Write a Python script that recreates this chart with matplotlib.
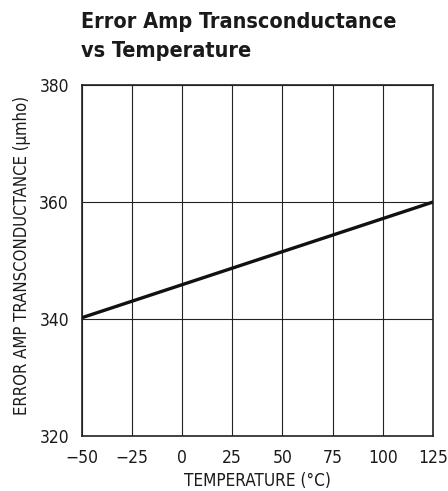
import matplotlib
matplotlib.use("Agg")
import matplotlib.pyplot as plt
from matplotlib import font_manager

temps = [-50, 125]
gm = [340.2, 360.0]
xticks = [-50, -25, 0, 25, 50, 75, 100, 125]
xlabels = ["\u221250", "\u221225", "0", "25", "50", "75", "100", "125"]
yticks = [320, 340, 360, 380]

names = {f.name for f in font_manager.fontManager.ttflist}
if "Liberation Sans Narrow" in names:
    plt.rcParams['font.family'] = ['Liberation Sans Narrow', 'DejaVu Sans']
else:
    plt.rcParams['font.family'] = ['DejaVu Sans']
    plt.rcParams['font.stretch'] = 'condensed'

fig = plt.figure(figsize=(4.48, 4.91), dpi=100)
ax = fig.add_axes([0.182, 0.112, 0.785, 0.715])
ax.plot(temps, gm, color='#111111', lw=2.4, solid_capstyle='butt', zorder=3)
ax.set_xlim(-50, 125)
ax.set_ylim(320, 380)
ax.set_xticks(xticks)
ax.set_xticklabels(xlabels)
ax.set_yticks(yticks)
ax.grid(True, color='#222222', lw=0.8)
ax.tick_params(axis='both', length=0, labelsize=12.5, colors='#1a1a1a')
ax.tick_params(axis='x', pad=9)
ax.tick_params(axis='y', pad=9)
for s in ax.spines.values():
    s.set_color('#222222')
    s.set_linewidth(1.2)
ax.set_xlabel("TEMPERATURE (\u00b0C)", fontsize=12.3, color='#1a1a1a', labelpad=4)
ax.set_ylabel("ERROR AMP TRANSCONDUCTANCE (\u03bcmho)", fontsize=12, color='#1a1a1a')
ax.yaxis.set_label_coords(-0.145, 0.513)
fig.text(0.18, 0.976, "Error Amp Transconductance\nvs Temperature", ha='left', va='top',
         fontsize=15.5, fontweight='bold', color='#1a1a1a', linespacing=1.6)
fig.savefig("out.png", dpi=100)
